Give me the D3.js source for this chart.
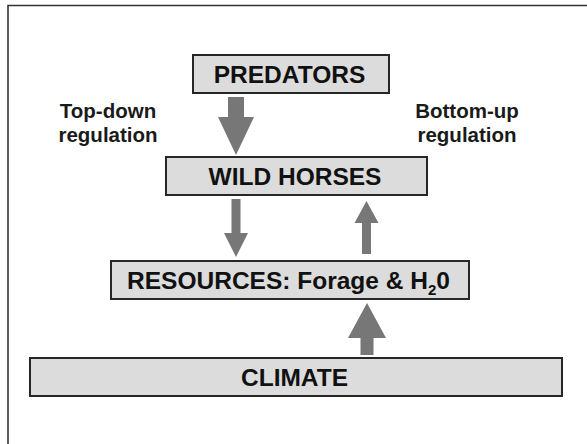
<!DOCTYPE html>
<html><head><meta charset="utf-8">
<script src="https://cdn.jsdelivr.net/npm/d3@7"></script>
<style>html,body{margin:0;padding:0;background:#fff;}svg{display:block;}</style>
</head><body>
<script>
// ---- data ----
const levels = ["PREDATORS", "WILD HORSES", "RESOURCES", "CLIMATE"];
const levelLabels = ["PREDATORS", "WILD HORSES", "RESOURCES: Forage & H|2|0", "CLIMATE"];
const linkSources = ["PREDATORS", "WILD HORSES", "RESOURCES", "CLIMATE"];
const linkTargets = ["WILD HORSES", "RESOURCES", "WILD HORSES", "RESOURCES"];
const sideLabelLines = [["Top-down", "regulation"], ["Bottom-up", "regulation"]];

// ---- layout (drawing constants) ----
const W = 587, H = 444;
const boxTop = {"PREDATORS": 55, "WILD HORSES": 157, "RESOURCES": 261, "CLIMATE": 358};
const boxX = {"PREDATORS": [193, 389], "WILD HORSES": [166, 427], "RESOURCES": [111, 469], "CLIMATE": [30, 562]};
const boxH = 38;
const arrowSpec = [
  {cx: 236, y0: 97, y1: 155, sw: 16, hw: 36, hl: 38},
  {cx: 236, y0: 199, y1: 257, sw: 9, hw: 24, hl: 24},
  {cx: 366.5, y0: 254, y1: 201, sw: 9, hw: 24, hl: 22},
  {cx: 367, y0: 355, y1: 303, sw: 13, hw: 38, hl: 35}
];

const svg = d3.select("body").append("svg").attr("width", W).attr("height", H);
const font = "'Liberation Sans', Arial, Helvetica, sans-serif";

// frame
svg.append("path").attr("d", d3.line()([[8, H + 2], [8, 5.5], [W + 2, 5.5]]))
  .attr("fill", "none").attr("stroke", "#333").attr("stroke-width", 1.6);

// boxes
const g = svg.selectAll("g.level").data(levels).join("g").attr("class", "level");
g.append("rect")
  .attr("x", d => boxX[d][0]).attr("y", d => boxTop[d])
  .attr("width", d => boxX[d][1] - boxX[d][0]).attr("height", boxH)
  .attr("fill", "#dcdcdc").attr("stroke", "#262626").attr("stroke-width", 2);
g.append("text")
  .attr("x", d => (boxX[d][0] + boxX[d][1]) / 2 - 1.5)
  .attr("y", d => boxTop[d] + 28)
  .attr("text-anchor", "middle")
  .attr("font-family", font).attr("font-weight", "bold").attr("font-size", 24.5)
  .attr("fill", "#111")
  .each(function(d, i) {
    const parts = levelLabels[i].split("|");
    const t = d3.select(this);
    parts.forEach((p, j) => {
      const ts = t.append("tspan").text(p);
      if (j === 1) ts.attr("font-size", 15).attr("dy", 6);
      if (j === 2) ts.attr("dy", -6);
    });
  });

// arrows
svg.selectAll("path.arrow").data(linkSources.map((s, i) => ({s, t: linkTargets[i], ...arrowSpec[i]})))
  .join("path").attr("class", "arrow")
  .attr("d", a => {
    const dir = a.y1 > a.y0 ? 1 : -1;
    const hb = a.y1 - dir * a.hl;
    const pts = [[a.cx - a.sw / 2, a.y0], [a.cx + a.sw / 2, a.y0], [a.cx + a.sw / 2, hb], [a.cx + a.hw / 2, hb],
                 [a.cx, a.y1], [a.cx - a.hw / 2, hb], [a.cx - a.sw / 2, hb]];
    return d3.line()(pts) + "Z";
  })
  .attr("fill", "#777");

// side labels
const sideX = [108, 467];
svg.selectAll("text.side").data(sideLabelLines).join("text").attr("class", "side")
  .attr("text-anchor", "middle")
  .attr("font-family", font).attr("font-weight", "bold").attr("font-size", 20.5)
  .attr("fill", "#1a1a1a")
  .each(function(lines, i) {
    const t = d3.select(this);
    lines.forEach((l, j) => t.append("tspan").attr("x", sideX[i]).attr("y", 118 + j * 24).text(l));
  });
</script>
</body></html>
